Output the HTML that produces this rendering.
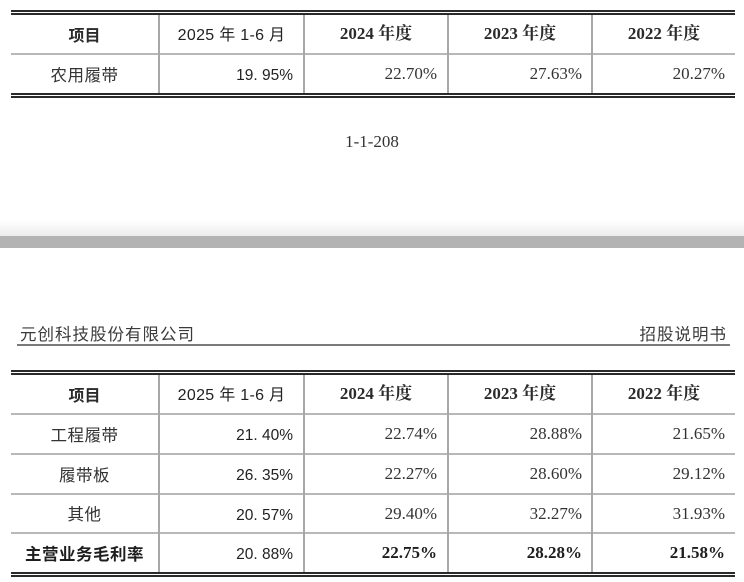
<!DOCTYPE html>
<html><head><meta charset="utf-8">
<style>
html,body{margin:0;padding:0;background:#fff;}
body{width:744px;height:582px;position:relative;overflow:hidden;}
.a{position:absolute;}
.dk{background:#2a2a2a;}
.gr{background:#b8b8b8;}
.vl{background:#a8a8a8;width:2px;}
.t{position:absolute;white-space:nowrap;color:#2b2b2b;}
.c{text-align:center;}
.r{text-align:right;}
.hs{font-family:"WenQuanYi Zen Hei","Noto Sans CJK SC",sans-serif;font-size:16px;font-weight:bold;}
.hm{font-family:"Liberation Sans","WenQuanYi Zen Hei",sans-serif;font-size:16px;letter-spacing:0.3px;color:#222;margin-top:2px;}
.hr{font-family:"Liberation Serif","Noto Serif CJK SC",serif;font-size:17px;font-weight:bold;}
.ls{font-family:"WenQuanYi Zen Hei","Noto Sans CJK SC",sans-serif;font-size:16.5px;letter-spacing:0.5px;color:#333;}
.vm{font-family:"Liberation Sans",sans-serif;font-size:15.5px;color:#222;margin-top:2px;}
.vs{font-family:"Liberation Serif",serif;font-size:17px;color:#333;}
.b{font-weight:bold;color:#1e1e1e;}
</style></head><body>

<!-- ===== Top table ===== -->
<div class="a dk" style="left:11px;top:10px;width:724px;height:2px;"></div>
<div class="a dk" style="left:11px;top:13px;width:724px;height:2px;"></div>
<div class="a gr" style="left:11px;top:53px;width:724px;height:2px;"></div>
<div class="a dk" style="left:11px;top:93px;width:724px;height:2px;"></div>
<div class="a dk" style="left:11px;top:96px;width:724px;height:2px;"></div>
<div class="a vl" style="left:158px;top:15px;height:78px;"></div>
<div class="a vl" style="left:303px;top:15px;height:78px;"></div>
<div class="a vl" style="left:447px;top:15px;height:78px;"></div>
<div class="a vl" style="left:591px;top:15px;height:78px;"></div>

<div class="t c hs" style="left:11px;width:147px;top:15px;height:38px;line-height:38px;">项目</div>
<div class="t c hm" style="left:160px;width:143px;top:15px;height:38px;line-height:38px;">2025 年 1-6 月</div>
<div class="t c hr" style="left:305px;width:142px;top:15px;height:38px;line-height:38px;">2024 年度</div>
<div class="t c hr" style="left:449px;width:142px;top:15px;height:38px;line-height:38px;">2023 年度</div>
<div class="t c hr" style="left:593px;width:142px;top:15px;height:38px;line-height:38px;">2022 年度</div>

<div class="t c ls" style="left:11px;width:147px;top:55px;height:38px;line-height:38px;">农用履带</div>
<div class="t r vm" style="left:160px;width:133px;top:55px;height:38px;line-height:38px;">19. 95%</div>
<div class="t r vs" style="left:305px;width:132px;top:55px;height:38px;line-height:38px;">22.70%</div>
<div class="t r vs" style="left:449px;width:133px;top:55px;height:38px;line-height:38px;">27.63%</div>
<div class="t r vs" style="left:593px;width:132px;top:55px;height:38px;line-height:38px;">20.27%</div>

<!-- page number -->
<div class="t c" style="left:272px;width:200px;top:130px;height:24px;line-height:24px;font-family:'Liberation Serif',serif;font-size:17px;color:#333;">1-1-208</div>

<!-- page gap -->
<div class="a" style="left:0;top:220px;width:744px;height:16px;background:linear-gradient(to bottom,#ffffff,#ececec);"></div>
<div class="a" style="left:0;top:236px;width:744px;height:12px;background:#b3b3b3;"></div>

<!-- ===== Page header ===== -->
<div class="t" style="left:20px;top:321px;height:24px;line-height:24px;font-family:'WenQuanYi Zen Hei','Noto Sans CJK SC',sans-serif;font-size:16.5px;letter-spacing:1px;color:#3a3a3a;">元创科技股份有限公司</div>
<div class="t r" style="left:560px;width:167px;top:321px;height:24px;line-height:24px;font-family:'WenQuanYi Zen Hei','Noto Sans CJK SC',sans-serif;font-size:16.5px;letter-spacing:1px;color:#3a3a3a;">招股说明书</div>
<div class="a" style="left:17px;top:344px;width:713px;height:2px;background:#7a7a7a;"></div>

<!-- ===== Second table ===== -->
<div class="a dk" style="left:11px;top:370px;width:724px;height:2px;"></div>
<div class="a dk" style="left:11px;top:373px;width:724px;height:2px;"></div>
<div class="a gr" style="left:11px;top:413px;width:724px;height:2px;"></div>
<div class="a gr" style="left:11px;top:453px;width:724px;height:2px;"></div>
<div class="a gr" style="left:11px;top:493px;width:724px;height:2px;"></div>
<div class="a gr" style="left:11px;top:532px;width:724px;height:2px;"></div>
<div class="a dk" style="left:11px;top:572px;width:724px;height:2px;"></div>
<div class="a dk" style="left:11px;top:575px;width:724px;height:2px;"></div>
<div class="a vl" style="left:158px;top:375px;height:197px;"></div>
<div class="a vl" style="left:303px;top:375px;height:197px;"></div>
<div class="a vl" style="left:447px;top:375px;height:197px;"></div>
<div class="a vl" style="left:591px;top:375px;height:197px;"></div>

<div class="t c hs" style="left:11px;width:147px;top:375px;height:38px;line-height:38px;">项目</div>
<div class="t c hm" style="left:160px;width:143px;top:375px;height:38px;line-height:38px;">2025 年 1-6 月</div>
<div class="t c hr" style="left:305px;width:142px;top:375px;height:38px;line-height:38px;">2024 年度</div>
<div class="t c hr" style="left:449px;width:142px;top:375px;height:38px;line-height:38px;">2023 年度</div>
<div class="t c hr" style="left:593px;width:142px;top:375px;height:38px;line-height:38px;">2022 年度</div>

<div class="t c ls" style="left:11px;width:147px;top:415px;height:38px;line-height:38px;">工程履带</div>
<div class="t r vm" style="left:160px;width:133px;top:415px;height:38px;line-height:38px;">21. 40%</div>
<div class="t r vs" style="left:305px;width:132px;top:415px;height:38px;line-height:38px;">22.74%</div>
<div class="t r vs" style="left:449px;width:133px;top:415px;height:38px;line-height:38px;">28.88%</div>
<div class="t r vs" style="left:593px;width:132px;top:415px;height:38px;line-height:38px;">21.65%</div>

<div class="t c ls" style="left:11px;width:147px;top:455px;height:38px;line-height:38px;">履带板</div>
<div class="t r vm" style="left:160px;width:133px;top:455px;height:38px;line-height:38px;">26. 35%</div>
<div class="t r vs" style="left:305px;width:132px;top:455px;height:38px;line-height:38px;">22.27%</div>
<div class="t r vs" style="left:449px;width:133px;top:455px;height:38px;line-height:38px;">28.60%</div>
<div class="t r vs" style="left:593px;width:132px;top:455px;height:38px;line-height:38px;">29.12%</div>

<div class="t c ls" style="left:11px;width:147px;top:495px;height:37px;line-height:37px;">其他</div>
<div class="t r vm" style="left:160px;width:133px;top:495px;height:37px;line-height:37px;">20. 57%</div>
<div class="t r vs" style="left:305px;width:132px;top:495px;height:37px;line-height:37px;">29.40%</div>
<div class="t r vs" style="left:449px;width:133px;top:495px;height:37px;line-height:37px;">32.27%</div>
<div class="t r vs" style="left:593px;width:132px;top:495px;height:37px;line-height:37px;">31.93%</div>

<div class="t c ls b" style="left:11px;width:147px;top:534px;height:38px;line-height:38px;">主营业务毛利率</div>
<div class="t r vm" style="left:160px;width:133px;top:534px;height:38px;line-height:38px;">20. 88%</div>
<div class="t r vs b" style="left:305px;width:132px;top:534px;height:38px;line-height:38px;">22.75%</div>
<div class="t r vs b" style="left:449px;width:133px;top:534px;height:38px;line-height:38px;">28.28%</div>
<div class="t r vs b" style="left:593px;width:132px;top:534px;height:38px;line-height:38px;">21.58%</div>

</body></html>
